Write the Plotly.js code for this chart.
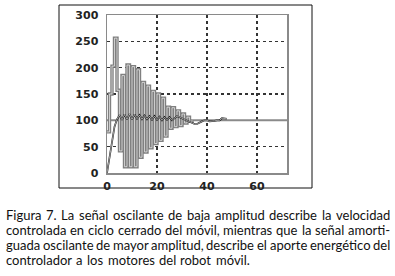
<!DOCTYPE html>
<html>
<head>
<meta charset="utf-8">
<script src="https://cdn.plot.ly/plotly-3.0.1.min.js"></script>
<style>
html,body{margin:0;padding:0;background:#fff;}
#chart{width:395px;height:276px;}
</style>
</head>
<body>
<div id="chart"></div>
<script>
// ---- data ----
// control effort (large damped oscillation), one sample per time unit
const effortT = [0,1,2,3,4,5,6,7,8,9,10,11,12,13,14,15,16,17,18,19,20,21,22,23,24,25,26,27,28,29,30,31,32,33,34];
const effortV = [78,150,203,256,157,42,185,12,205,12,202,12,196,30,172,40,165,48,155,56,150,62,142,70,125,85,124,88,118,90,112,95,106,98,100];
// controlled speed (small oscillation)
const speedT = [0,1,2,3,4,5,6,7,8,9,10,11,12,13,14,15,16,17,18,19,20,21,22,23,24,25,26,27,28,29,30,31,32,33,34,35,36,37,38,39,40,41,42,43,44,45,46,47,48];
const speedV = [0,30,58,88,102,110,101,111,102,112,102,111,103,110,102,109,102,108,101,108,101,107,100,106,101,106,100,105,108,106,104,101,100,97,95,93,93,96,98,100,100,98,98,99,100,100,104,104,103];
// set point
const refT = [0,72];
const refV = [100,100];
const xTicks = [0,20,40,60];
const yTicks = [0,50,100,150,200,250,300];
const captionLines = [
  "Figura 7. La señal oscilante de baja amplitud describe la velocidad",
  "controlada en ciclo cerrado del móvil, mientras que la señal amorti-",
  "guada oscilante de mayor amplitud, describe el aporte energético del",
  "controlador a los motores del robot móvil."
];

// ---- layout geometry ----
const W = 395, H = 276;
const ml = 107, mr = 108, mt = 15, mb = 103;
const pw = W - ml - mr, ph = H - mt - mb;
const px2x = p => (p - ml) / pw;
const py2y = p => (H - mb - p) / ph;

const traces = [
  {x: refT, y: refV, mode: 'lines', line: {color: '#8a8a8a', width: 2}, hoverinfo: 'skip'},
  {x: effortT, y: effortV, mode: 'lines', line: {color: '#808080', width: 3.4, shape: 'hv'}, hoverinfo: 'skip'},
  {x: effortT, y: effortV, mode: 'lines', line: {color: '#ffffff', width: 0.6, shape: 'hv'}, hoverinfo: 'skip'},
  {x: speedT, y: speedV, mode: 'lines', line: {color: '#111111', width: 1.7}, hoverinfo: 'skip'},
  {x: speedT, y: speedV, mode: 'lines', line: {color: '#ffffff', width: 0.6}, hoverinfo: 'skip'}
];

// caption, justified word by word
const capFamily = 'Lato';
const capSize = 13;
const cv = document.createElement('canvas').getContext('2d');
cv.font = capSize + 'px Lato';
const capLeft = 6, capRight = 390;
const capY = [215, 230, 245, 259.5];
const annotations = [];
captionLines.forEach((line, i) => {
  const words = line.split(' ');
  const widths = words.map(w => cv.measureText(w).width);
  const total = widths.reduce((a, b) => a + b, 0);
  const justify = i < captionLines.length - 1;
  const gap = justify ? (capRight - capLeft - total) / (words.length - 1) : cv.measureText(' ').width * 1.3;
  let x = capLeft;
  words.forEach((w, j) => {
    annotations.push({
      text: w, xref: 'paper', yref: 'paper', x: px2x(x), y: py2y(capY[i]),
      xanchor: 'left', yanchor: 'middle', showarrow: false,
      borderpad: 0, borderwidth: 0,
      font: {family: capFamily, size: capSize, color: '#111'}
    });
    x += widths[j] + gap;
  });
});

const tickFont = {family: '"DejaVu Sans", Verdana, sans-serif', size: 11, color: '#222', weight: 'bold'};

const layout = {
  width: W, height: H,
  margin: {l: ml, r: mr, t: mt, b: mb, pad: 0},
  paper_bgcolor: '#fff', plot_bgcolor: '#fff',
  showlegend: false,
  xaxis: {
    range: [0, 72], tickvals: xTicks, ticktext: xTicks.map(String),
    showgrid: true, gridcolor: '#333', gridwidth: 1.5, griddash: 'dot',
    zeroline: false, showline: true, mirror: true, linecolor: '#8a8a8a', linewidth: 1.5,
    ticks: '', tickfont: tickFont, ticklabelstandoff: 2
  },
  yaxis: {
    range: [0, 300], tickvals: yTicks, ticktext: yTicks.map(String),
    showgrid: true, gridcolor: '#333', gridwidth: 1.5, griddash: 'dot',
    zeroline: false, showline: true, mirror: true, linecolor: '#8a8a8a', linewidth: 1.5,
    ticks: '', tickfont: tickFont, ticklabelstandoff: 5
  },
  shapes: [{
    type: 'rect', xref: 'paper', yref: 'paper',
    x0: px2x(59), x1: px2x(312), y0: py2y(188), y1: py2y(5),
    line: {color: '#111', width: 1}, fillcolor: 'rgba(0,0,0,0)', layer: 'below'
  }],
  annotations: annotations
};

Plotly.newPlot('chart', traces, layout, {staticPlot: true, displayModeBar: false});
</script>
</body>
</html>
